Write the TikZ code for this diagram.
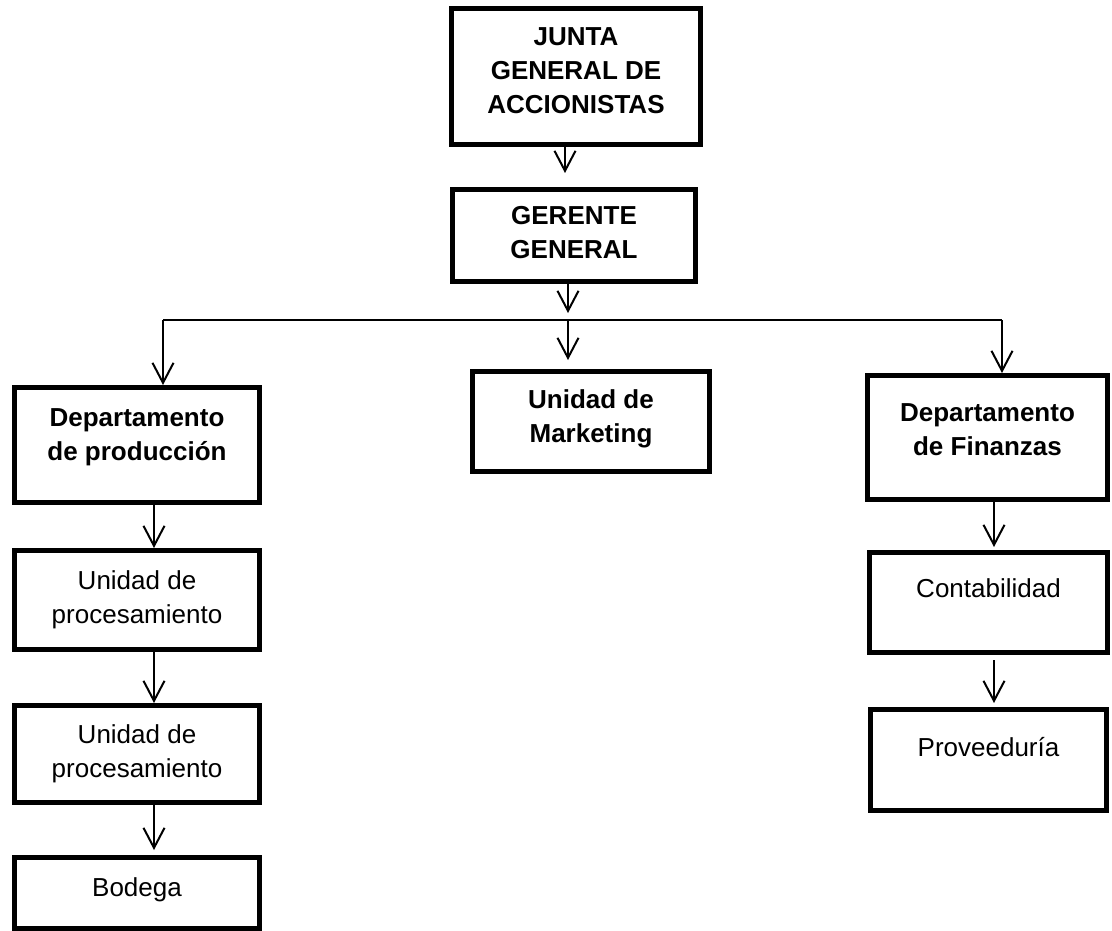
\documentclass[tikz,border=0pt]{standalone}
\usepackage{fontspec}
\setmainfont{Liberation Sans}
\usetikzlibrary{arrows.meta,calc}
\newcommand{\lift}[1]{\rule[-#1]{0pt}{#1}}

\begin{document}
\begin{tikzpicture}[x=1pt,y=-1pt]
    \tikzstyle{every node}=[font={\fontsize{26}{34}\selectfont}]
    \tikzstyle{box}=[draw, line width=5pt, rectangle, inner sep=0pt, align=center]
    \tikzstyle{head}=[box, font={\fontsize{26}{34}\selectfont\bfseries}]
    \tikzstyle{link}=[line width=2pt, -{Straight Barb[length=20pt,width=21pt]}]
    \useasboundingbox (0,0) rectangle (1112,931);

    % top of the chart
    \node[head, minimum width=249pt, minimum height=136pt] (junta) at (576,76.5) {JUNTA\\GENERAL DE\\ACCIONISTAS\lift{11pt}};
    \node[head, minimum width=243pt, minimum height=92pt] (gerente) at (574,235.5) {GERENTE\\GENERAL\lift{7pt}};

    % departments
    \node[head, minimum width=245pt, minimum height=115pt] (prod) at (137,445) {Departamento\\de producción\lift{21pt}};
    \node[head, minimum width=237pt, minimum height=100pt] (mkt) at (591,421.5) {Unidad de\\Marketing\lift{11pt}};
    \node[head, minimum width=240pt, minimum height=124pt] (fin) at (987.5,437.5) {Departamento\\de Finanzas\lift{16pt}};

    % units
    \node[box, minimum width=245pt, minimum height=99pt] (proc1) at (137,600) {Unidad de\\procesamiento};
    \node[box, minimum width=245pt, minimum height=97pt] (proc2) at (137,754) {Unidad de\\procesamiento};
    \node[box, minimum width=245pt, minimum height=71pt] (bodega) at (137,893) {Bodega\lift{12pt}};
    \node[box, minimum width=238pt, minimum height=100pt] (conta) at (988.5,602.5) {Contabilidad\lift{29pt}};
    \node[box, minimum width=236pt, minimum height=101pt] (prove) at (988.5,760) {Proveeduría\lift{26pt}};

    % connectors
    \coordinate (busL) at (163,320);
    \coordinate (busM) at (568,320);
    \coordinate (busR) at (1002,320);
    \draw[link] ($(junta.south)+(-11,0)$) -- ($(gerente.north)+(-9,-14)$);
    \draw[link, shorten >=7pt] ($(gerente.south)+(-6,0)$) -- (busM);
    \draw[line width=2pt] (busL) -- (busR);
    \draw[link] (busL) -- (busL |- prod.north);
    \draw[link, shorten >=9pt] (busM) -- (busM |- mkt.north);
    \draw[link] (busR) -- (busR |- fin.north);
    \draw[link] ($(prod.south)+(17,0)$) -- ($(proc1.north)+(17,0)$);
    \draw[link] ($(proc1.south)+(17,0)$) -- ($(proc2.north)+(17,0)$);
    \draw[link, shorten >=5pt] ($(proc2.south)+(17,0)$) -- ($(bodega.north)+(17,0)$);
    \draw[link, shorten >=3pt] ($(fin.south)+(6.5,0)$) -- ($(conta.north)+(5.5,0)$);
    \draw[link, shorten <=5pt, shorten >=4pt] ($(conta.south)+(5.5,0)$) -- ($(prove.north)+(5.5,0)$);
\end{tikzpicture}
\end{document}
